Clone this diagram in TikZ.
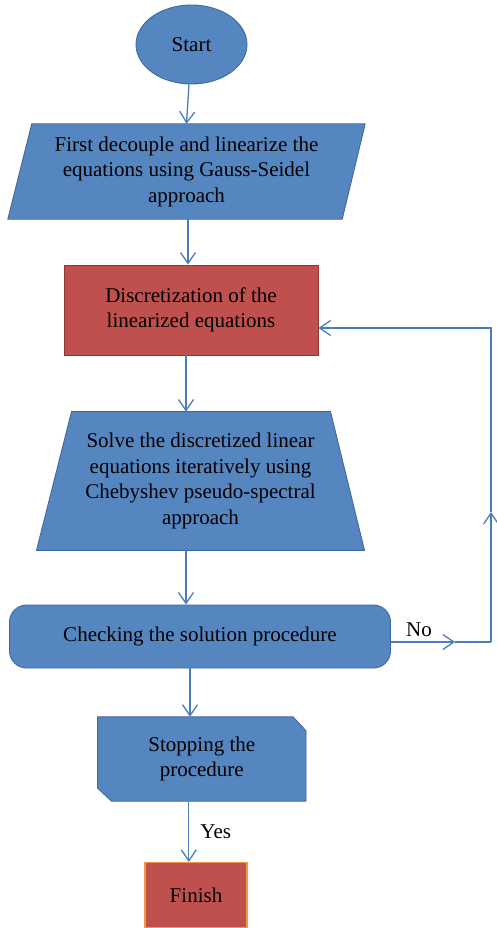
\documentclass[tikz,border=0pt]{standalone}
\usepackage{fontspec}
\setmainfont{Liberation Serif}
\usetikzlibrary{shapes.geometric,arrows.meta,backgrounds}
\definecolor{bfill}{HTML}{5686C0}
\definecolor{bline}{HTML}{41689E}
\definecolor{rfill}{HTML}{C0504D}
\definecolor{rline}{HTML}{8C3836}
\definecolor{oline}{HTML}{F79646}
\definecolor{conn}{HTML}{4A7EBB}
\begin{document}
\begin{tikzpicture}[x=1pt,y=-1pt,
  txt/.style={inner sep=0pt, align=center, font=\fontsize{21}{25.5}\selectfont},
  bshape/.style={fill=bfill, draw=bline, line width=0.9pt},
  rshape/.style={fill=rfill, draw=rline, line width=0.9pt},
  arr/.style={draw=conn, line width=1.3pt, -{Straight Barb[length=11pt,width=15pt]}},
  plain/.style={draw=conn, line width=1.3pt},
  lbl/.style={inner sep=0pt, font=\fontsize{21}{25.5}\selectfont}]
\useasboundingbox (0,0) rectangle (496,928);

% nodes
\node[txt, ellipse, bshape, minimum width=111, minimum height=79] (start) at (191.5,44.5) {Start};
\node[txt, minimum width=357, minimum height=95] (par) at (186.5,171.5)
  {First decouple and linearize the\\equations using Gauss-Seidel\\approach};
\node[txt, rshape, minimum width=254, minimum height=90] (disc) at (191,310)
  {Discretization of the\\linearized equations};
\node[txt, minimum width=327.6, minimum height=138.3] (solve) at (200.5,481)
  {Solve the discretized linear\\equations iteratively using\\Chebyshev pseudo-spectral\\approach};
\node[txt, bshape, rounded corners=17pt, minimum width=381, minimum height=63] (chk) at (200,636.5)
  {Checking the solution procedure};
\node[txt, minimum width=208, minimum height=84] (stop) at (201.8,759)
  {Stopping the\\procedure};
\node[txt, fill=rfill, draw=oline, line width=1.5pt, minimum width=101.7, minimum height=64.6] (fin) at (196,895)
  {Finish};

% shapes behind text
\begin{scope}[on background layer]
  \path[bshape] ([xshift=24]par.north west) -- (par.north east)
     -- ([xshift=-23]par.south east) -- (par.south west) -- cycle;
  \path[bshape] ([xshift=35]solve.north west) -- ([xshift=-34]solve.north east)
     -- (solve.south east) -- (solve.south west) -- cycle;
  \path[bshape] (stop.north west) -- ([xshift=-13]stop.north east)
     -- ([yshift=-14]stop.north east) -- (stop.south east)
     -- ([xshift=14]stop.south west) -- ([yshift=13]stop.south west) -- cycle;
\end{scope}

% connectors
\draw[arr] (start) -- (par.north);
\draw[arr] ([xshift=1.5]par.south) -- ([xshift=1.5]par.south |- disc.north);
\draw[arr] ([xshift=-5]disc.south) -- ([xshift=-5]disc.south |- solve.north);
\draw[arr] ([xshift=-14.5]solve.south) -- ([xshift=-14.5]solve.south |- chk.north);
\draw[arr] ([xshift=-10]chk.south) -- ([xshift=-10]chk.south |- stop.north);
\draw[arr] ([xshift=-13]stop.south) -- ([xshift=-13]stop.south |- fin.north)
  node[lbl, midway, right, xshift=11pt] (yes) {Yes};

% feedback loop
\coordinate (nomid) at (455,642);
\coordinate (c1) at (491,642);
\coordinate (c2) at (491,512);
\coordinate (c3) at (491,328);
\draw[arr] (chk.east |- nomid) -- (nomid);
\draw[plain] (nomid) -- (c1);
\draw[arr] (c1) -- (c2);
\draw[arr] (c2) -- (c3) -- (disc.east |- c3);
\node[lbl] (no) at (419,630) {No};
\end{tikzpicture}
\end{document}
